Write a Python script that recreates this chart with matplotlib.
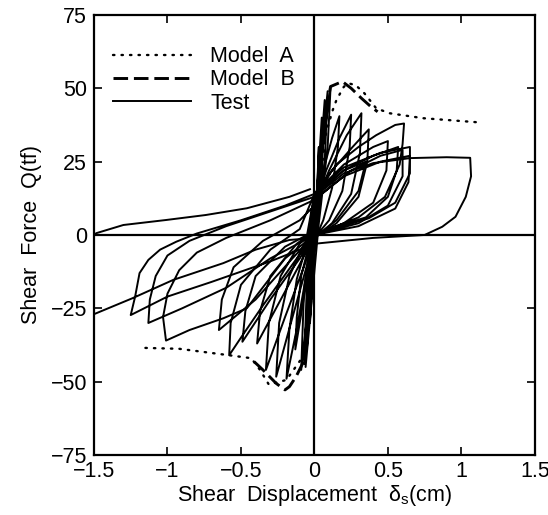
import matplotlib
import matplotlib.pyplot as plt

matplotlib.use("Agg")

plt.rcParams["font.family"] = ["Liberation Sans", "DejaVu Sans"]
plt.rcParams["mathtext.fontset"] = "custom"
plt.rcParams["mathtext.rm"] = "Liberation Sans"
plt.rcParams["mathtext.it"] = "Liberation Sans"

# ── Model skeleton curves ─────────────────────────────────────────────────────
model_a_x = [-1.15, -0.92, -0.58, -0.43, -0.37, -0.31, -0.19, -0.08, -0.05, -0.03,
             0.0, 0.03, 0.08, 0.125, 0.15, 0.2, 0.23, 0.28, 0.34, 0.42, 0.51, 0.74, 1.14]
model_a_y = [-38.5, -38.8, -41.0, -42.0, -46.0, -51.0, -49.4, -41.6, -33.0, -22.0,
             0.0, 15.0, 35.0, 42.6, 46.0, 50.5, 51.7, 51.1, 48.3, 43.2, 41.5, 39.8, 38.3]

model_b_x = [-0.41, -0.35, -0.26, -0.2, -0.17, -0.125, -0.08, -0.045, -0.02,
             0.0, 0.03, 0.07, 0.11, 0.19, 0.25, 0.32, 0.385, 0.43]
model_b_y = [-43.2, -46.0, -50.6, -52.8, -51.7, -48.3, -43.8, -32.4, -21.0,
             0.0, 20.0, 40.0, 50.6, 52.3, 50.0, 46.6, 43.7, 42.0]

# ── Test record (three stages of the loading history) ────────────────────────
early_x = [0.0, 0.02, 0.01, -0.005, -0.02, -0.01, 0.005,
           0.03, 0.015, 0.0, -0.03, -0.02, 0.0,
           0.05, 0.03, 0.0, -0.05, -0.035, 0.0,
           0.07, 0.05, 0.01, -0.07, -0.05, -0.01,
           0.09, 0.07, 0.02, -0.09, -0.07, -0.02,
           0.11, 0.09, 0.03, -0.06, -0.04, -0.03]
early_y = [0.0, 18.0, 5.0, 0.0, -18.0, -5.0, 0.0,
           30.0, 8.0, 0.0, -30.0, -8.0, 0.0,
           40.0, 12.0, 2.0, -38.0, -10.0, 0.0,
           46.0, 20.0, 3.0, -44.0, -15.0, 0.0,
           49.0, 25.0, 4.0, -46.0, -18.0, 0.0,
           50.5, 30.0, 4.0, -45.0, -20.0, 0.0]

mid_x = [-0.03, 0.0, 0.06, 0.12, 0.17, 0.16, 0.12, 0.06, 0.0,
         -0.04, -0.09, -0.13, -0.12, -0.09, -0.04, -0.02,
         0.0, 0.08, 0.17, 0.25, 0.24, 0.19, 0.1, 0.0,
         -0.05, -0.12, -0.19, -0.17, -0.12, -0.05, -0.02,
         0.0, 0.1, 0.22, 0.32, 0.31, 0.25, 0.12, 0.0,
         -0.06, -0.16, -0.26, -0.24, -0.17, -0.07, -0.03,
         0.0, 0.12, 0.26, 0.37, 0.36, 0.3, 0.15, 0.0,
         -0.08, -0.2, -0.33, -0.31, -0.23, -0.1, -0.04,
         0.0, 0.15, 0.3, 0.42, 0.55, 0.61, 0.6, 0.58, 0.48, 0.3, 0.1, 0.0,
         -0.1, -0.25, -0.39, -0.37, -0.3, -0.12, -0.04,
         0.0, 0.2, 0.4, 0.57, 0.56, 0.5, 0.35, 0.1, 0.0,
         -0.1, -0.3, -0.49, -0.47, -0.4, -0.2, -0.05,
         0.0, 0.2, 0.45, 0.65, 0.65, 0.55, 0.37, 0.1, 0.0,
         -0.12, -0.35, -0.5, -0.58, -0.57, -0.5, -0.3, -0.1,
         0.0, 0.2, 0.4, 0.5, 0.49, 0.4, 0.2, 0.0,
         -0.15, -0.4, -0.65, -0.63, -0.55, -0.35, -0.1, 0.0]
mid_y = [0.0, 10.0, 22.0, 33.0, 40.5, 30.0, 16.0, 5.0, -2.0,
         -12.0, -27.0, -39.0, -28.0, -14.0, -4.0, 0.0,
         10.0, 22.0, 33.0, 41.0, 30.0, 15.0, 5.0, -1.0,
         -12.0, -32.0, -49.0, -32.0, -15.0, -3.0, 0.0,
         10.0, 22.0, 34.0, 41.5, 28.0, 14.0, 4.0, -1.0,
         -12.0, -30.0, -48.3, -30.0, -14.0, -3.0, 0.0,
         12.0, 22.0, 30.0, 36.0, 25.0, 13.0, 4.0, -1.0,
         -12.0, -28.0, -46.0, -30.0, -14.0, -3.0, 0.0,
         14.0, 24.0, 30.0, 34.0, 37.5, 38.0, 31.0, 24.0, 13.0, 6.0, 2.0, 0.0,
         -10.0, -24.0, -37.0, -26.0, -14.0, -3.0, 0.0,
         13.0, 22.0, 27.0, 30.0, 22.0, 13.0, 6.0, 2.0, 0.0,
         -8.0, -22.0, -36.4, -26.0, -14.0, -4.0, 0.0,
         14.0, 23.0, 28.0, 30.0, 21.0, 11.0, 5.7, 1.5, 0.0,
         -8.0, -24.0, -35.0, -41.0, -30.0, -17.0, -5.0, 2.0,
         14.0, 24.0, 30.0, 32.0, 22.0, 11.0, 4.0, 0.0,
         -8.0, -22.0, -32.4, -22.0, -11.0, -2.0, 5.0, 10.0]

late_x = [0.0, 0.25, 0.45, 0.6, 0.6, 0.5, 0.3, 0.0,
          -0.2, -0.46, -0.62, -0.85, -1.01, -1.03, -1.0, -0.92, -0.8, -0.6, -0.3, 0.0,
          0.2, 0.45, 0.65, 0.64, 0.55, 0.3, 0.0,
          -0.3, -0.6, -0.9, -1.13, -1.12, -1.08, -1.0, -0.85, -0.6, -0.3, 0.0,
          0.2, 0.4, 0.65, 0.9, 1.06, 1.066, 1.03, 0.96, 0.87, 0.75, 0.4, 0.0,
          -0.3, -0.7, -1.0, -1.25, -1.22, -1.19, -1.13, -1.05, -0.94, -0.8, -0.5, -0.2, 0.0,
          0.2, 0.35, 0.3, 0.15, 0.0,
          -0.17, -0.4, -0.62, -0.96, -1.24, -1.5, -1.6,
          -1.65, -1.55, -1.485, -1.3, -1.01, -0.74, -0.46, -0.17, -0.03]
late_y = [12.0, 22.0, 27.0, 29.0, 20.0, 10.0, 4.0, 0.0,
          -8.0, -25.0, -28.4, -32.4, -36.0, -28.0, -20.0, -12.0, -6.0, -1.0, 5.0, 12.0,
          20.0, 25.0, 27.0, 18.0, 9.0, 3.0, 0.0,
          -8.0, -18.0, -25.0, -30.0, -22.0, -14.0, -7.0, -2.0, 3.0, 8.0, 13.0,
          21.0, 24.5, 26.2, 26.5, 26.3, 20.0, 13.0, 6.2, 2.8, 0.0, -1.0, -3.0,
          -9.0, -16.0, -21.0, -27.3, -21.0, -13.0, -8.5, -5.0, -2.3, 0.5, 5.0, 10.0, 14.0,
          22.0, 25.0, 15.0, 5.0, -1.0,
          -1.7, -5.0, -9.6, -15.3, -21.6, -27.0, -29.0,
          -20.0, -3.0, 0.6, 3.4, 5.1, 6.8, 9.1, 13.0, 15.6]

x_ticks = [-1.5, -1, -0.5, 0, 0.5, 1, 1.5]
x_tick_labels = ["−1.5", "−1", "−0.5", "0", "0.5", "1", "1.5"]
y_ticks = [-75, -50, -25, 0, 25, 50, 75]

fig = plt.figure(figsize=(5.48, 5.15), dpi=100)
ax = fig.add_axes([0.1715, 0.1165, 0.8045, 0.8545])

ax.axhline(0, color="black", lw=1.6, zorder=1)
ax.axvline(0, color="black", lw=1.6, zorder=1)

ax.plot(model_a_x, model_a_y, color="black", lw=1.7, linestyle=(0, (0.6, 3.0)),
        dash_capstyle="round", label="Model  A")
ax.plot(model_b_x, model_b_y, color="black", lw=2.1, linestyle=(0, (5, 2)),
        label="Model  B")
ax.plot(early_x, early_y, color="black", lw=1.4, label="Test")
ax.plot(mid_x, mid_y, color="black", lw=1.4)
ax.plot(late_x, late_y, color="black", lw=1.4)

ax.set_xlim(-1.5, 1.5)
ax.set_ylim(-75, 75)
ax.set_xticks(x_ticks)
ax.set_xticklabels(x_tick_labels)
ax.set_yticks(y_ticks)
ax.tick_params(direction="in", top=True, right=True, length=6, width=1.2,
               labelsize=15.5, pad=5)
ax.tick_params(axis="x", pad=4)
for sp in ax.spines.values():
    sp.set_linewidth(1.6)

ax.set_xlabel(r"Shear  Displacement  $\mathregular{\delta_s}$(cm)", fontsize=15.5, labelpad=1)
ax.set_ylabel("Shear  Force  Q(tf)", fontsize=15.5, labelpad=6)

ax.legend(loc="upper left", bbox_to_anchor=(0.01, 0.963), frameon=False,
          fontsize=15.5, handlelength=3.6, handletextpad=0.9, labelspacing=0.1,
          borderaxespad=0.3)

plt.savefig("out.png", dpi=100)
plt.close(fig)
